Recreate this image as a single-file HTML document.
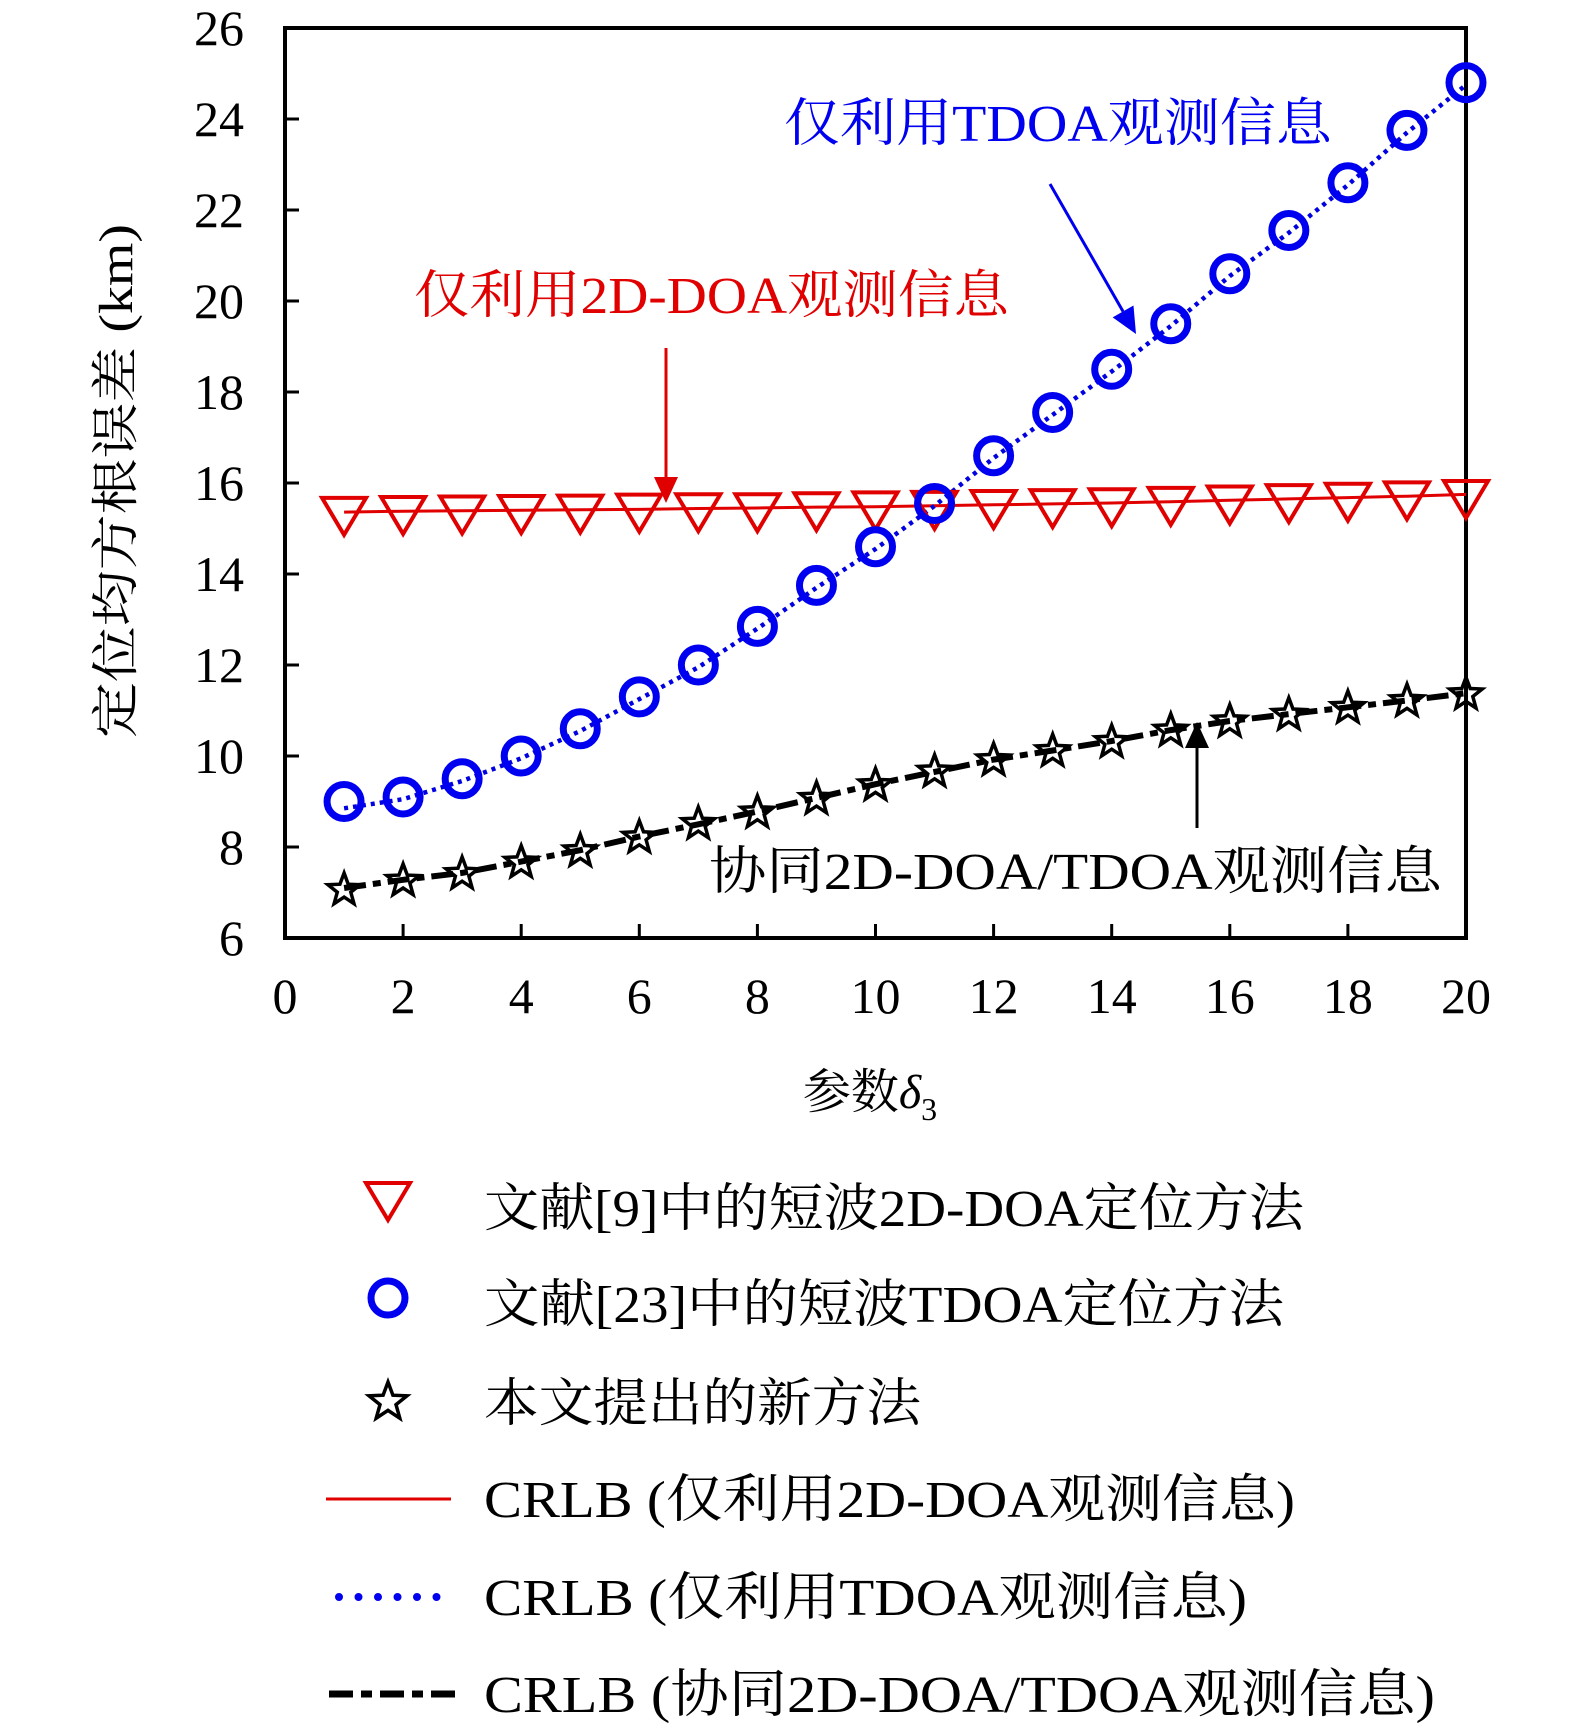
<!DOCTYPE html>
<html><head><meta charset="utf-8"><style>
body{margin:0;background:#fff}
svg{display:block}
text{font-family:"Liberation Serif","Noto Serif CJK SC",serif}
</style></head><body>
<svg id="chart" width="1575" height="1726" viewBox="0 0 1575 1726" xmlns="http://www.w3.org/2000/svg">
<g id="plot"></g>
</svg>
<script>
const xVals=[1,2,3,4,5,6,7,8,9,10,11,12,13,14,15,16,17,18,19,20];
const doaMarkers=[15.3,15.32,15.33,15.34,15.35,15.37,15.38,15.38,15.4,15.42,15.43,15.45,15.47,15.49,15.52,15.55,15.58,15.61,15.64,15.67];
const tdoaMarkers=[9.0,9.1,9.5,10.0,10.6,11.3,12.0,12.85,13.75,14.6,15.55,16.6,17.55,18.5,19.5,20.6,21.55,22.6,23.75,24.8];
const newMarkers=[7.1,7.3,7.45,7.7,7.95,8.25,8.55,8.8,9.1,9.4,9.7,9.95,10.15,10.35,10.6,10.8,10.95,11.1,11.25,11.4];
const crlbDoa=[15.36,15.38,15.39,15.4,15.41,15.42,15.44,15.45,15.47,15.48,15.5,15.52,15.54,15.56,15.59,15.62,15.65,15.68,15.71,15.75];
const crlbTdoa=[8.85,9.05,9.45,9.95,10.55,11.25,11.95,12.8,13.7,14.55,15.5,16.55,17.5,18.45,19.45,20.55,21.5,22.55,23.7,24.75];
const crlbNew=[7.1,7.28,7.43,7.68,7.93,8.23,8.5,8.78,9.08,9.38,9.65,9.92,10.12,10.33,10.57,10.77,10.92,11.07,11.22,11.38];
const xTicks=[0,2,4,6,8,10,12,14,16,18,20];
const yTicks=[6,8,10,12,14,16,18,20,22,24,26];

const L=285,R=1466,T=28,B=938;
const xs=v=>L+(v-0)/20*(R-L);
const ys=v=>B-(v-6)/20*(B-T);
const NS='http://www.w3.org/2000/svg';
const g=document.getElementById('plot');
function mk(tag,attrs,parent){const e=document.createElementNS(NS,tag);for(const k in attrs)e.setAttribute(k,attrs[k]);(parent||g).appendChild(e);return e;}
function txt(s,x,y,size,fill,anchor,len){const a={x:x,y:y,'font-size':size,fill:fill||'#000','text-anchor':anchor||'start'};if(len){a.textLength=len;a.lengthAdjust='spacingAndGlyphs';}const t=mk('text',a);t.textContent=s;return t;}
function starPts(cx,cy,r){let p=[];for(let i=0;i<10;i++){const a=-Math.PI/2+i*Math.PI/5;const rr=i%2?r*0.42:r;p.push((cx+rr*Math.cos(a)).toFixed(1)+','+(cy+rr*Math.sin(a)).toFixed(1));}return p.join(' ');}
function triPts(cx,cy){return `${cx-22},${cy-17} ${cx+22},${cy-17} ${cx},${cy+20}`;}

let fr=mk('rect',{x:L,y:T,width:R-L,height:B-T,fill:'none',stroke:'#000','stroke-width':4});

xTicks.forEach(v=>{
  let l=mk('line',{x1:xs(v),x2:xs(v),y1:B,y2:B-14,stroke:'#000','stroke-width':3});
  
  let t=txt(String(v),xs(v),1013,50,'#000','middle');
  
});
yTicks.forEach(v=>{
  let l=mk('line',{x1:L,x2:L+14,y1:ys(v),y2:ys(v),stroke:'#000','stroke-width':3});
  
  let t=txt(String(v),244,ys(v)+17,50,'#000','end');
  
});
let yt=mk('text',{x:0,y:0,'font-size':48,'text-anchor':'middle',textLength:514,lengthAdjust:'spacingAndGlyphs',transform:'translate(132,481) rotate(-90)'});
yt.textContent='定位均方根误差 (km)';

let xt=mk('text',{x:870,y:1108,'font-size':48,'text-anchor':'middle'});
xt.innerHTML='参数<tspan font-style="italic">δ</tspan><tspan font-size="32" dy="12">3</tspan>';


function path(arr){return arr.map((v,i)=>(i?'L':'M')+xs(xVals[i]).toFixed(1)+','+ys(v).toFixed(1)).join(' ');}
let p1=mk('path',{d:path(crlbDoa),fill:'none',stroke:'#e00000','stroke-width':3});

let p2=mk('path',{d:path(crlbTdoa),fill:'none',stroke:'#0000e0','stroke-width':4.5,'stroke-dasharray':'4 5'});

let p3=mk('path',{d:path(crlbNew),fill:'none',stroke:'#000','stroke-width':6,'stroke-dasharray':'22 7 8 7'});


doaMarkers.forEach((v,i)=>{let m=mk('polygon',{points:triPts(xs(xVals[i]),ys(v)),fill:'none',stroke:'#e00000','stroke-width':4});
});
tdoaMarkers.forEach((v,i)=>{let m=mk('circle',{cx:xs(xVals[i]),cy:ys(v),r:17,fill:'none',stroke:'#0000f0','stroke-width':7});
});
newMarkers.forEach((v,i)=>{let m=mk('polygon',{points:starPts(xs(xVals[i]),ys(v)+2,17),fill:'none',stroke:'#000','stroke-width':3.5});
});

function arrow(x1,y1,x2,y2,col,name){
  const a=Math.atan2(y2-y1,x2-x1),h=26,w=12;
  const bx=x2-h*Math.cos(a),by=y2-h*Math.sin(a);
  let l=mk('line',{x1:x1,y1:y1,x2:bx,y2:by,stroke:col,'stroke-width':3});
  
  let p=mk('polygon',{points:`${x2},${y2} ${bx+w*Math.sin(a)},${by-w*Math.cos(a)} ${bx-w*Math.sin(a)},${by+w*Math.cos(a)}`,fill:col});
  
}
let a1=txt('仅利用TDOA观测信息',784,141,52,'#0000f0','start',548);

arrow(1050,184,1136,334,'#0000f0','tdoa-arrow');
let a2=txt('仅利用2D-DOA观测信息',414,313,52,'#e00000','start',595);

arrow(666,348,666,503,'#e00000','doa-arrow');
let a3=txt('协同2D-DOA/TDOA观测信息',709,889,52,'#000','start',733);

arrow(1197,828,1197,722,'#000','joint-arrow');

const rows=[1200,1296,1395,1499,1597,1694];
const labels=['文献[9]中的短波2D-DOA定位方法','文献[23]中的短波TDOA定位方法','本文提出的新方法','CRLB (仅利用2D-DOA观测信息)','CRLB (仅利用TDOA观测信息)','CRLB (协同2D-DOA/TDOA观测信息)'];
const lens=[820,800,437,811,763,951];
const offs=[26,26,26,18,18,18];
let lg=mk('g',{});
let m1=mk('polygon',{points:triPts(388,1200),fill:'none',stroke:'#e00000','stroke-width':4},lg);

let m2=mk('circle',{cx:388,cy:1298,r:17,fill:'none',stroke:'#0000f0','stroke-width':7},lg);

let m3=mk('polygon',{points:starPts(388,1402,20),fill:'none',stroke:'#000','stroke-width':3.5},lg);

let l1=mk('line',{x1:326,x2:451,y1:1499,y2:1499,stroke:'#e00000','stroke-width':3},lg);

let l2=mk('line',{x1:339,x2:443,y1:1597,y2:1597,stroke:'#0000f0','stroke-width':8,'stroke-linecap':'round','stroke-dasharray':'0 19.5'},lg);

let l3=mk('line',{x1:329,x2:457,y1:1694,y2:1694,stroke:'#000','stroke-width':7,'stroke-dasharray':'24 8 11 8'},lg);

labels.forEach((s,i)=>{let t=mk('text',{x:484,y:rows[i]+offs[i],'font-size':52,textLength:lens[i],lengthAdjust:'spacingAndGlyphs'},lg);t.textContent=s;
});
</script>
</body></html>
